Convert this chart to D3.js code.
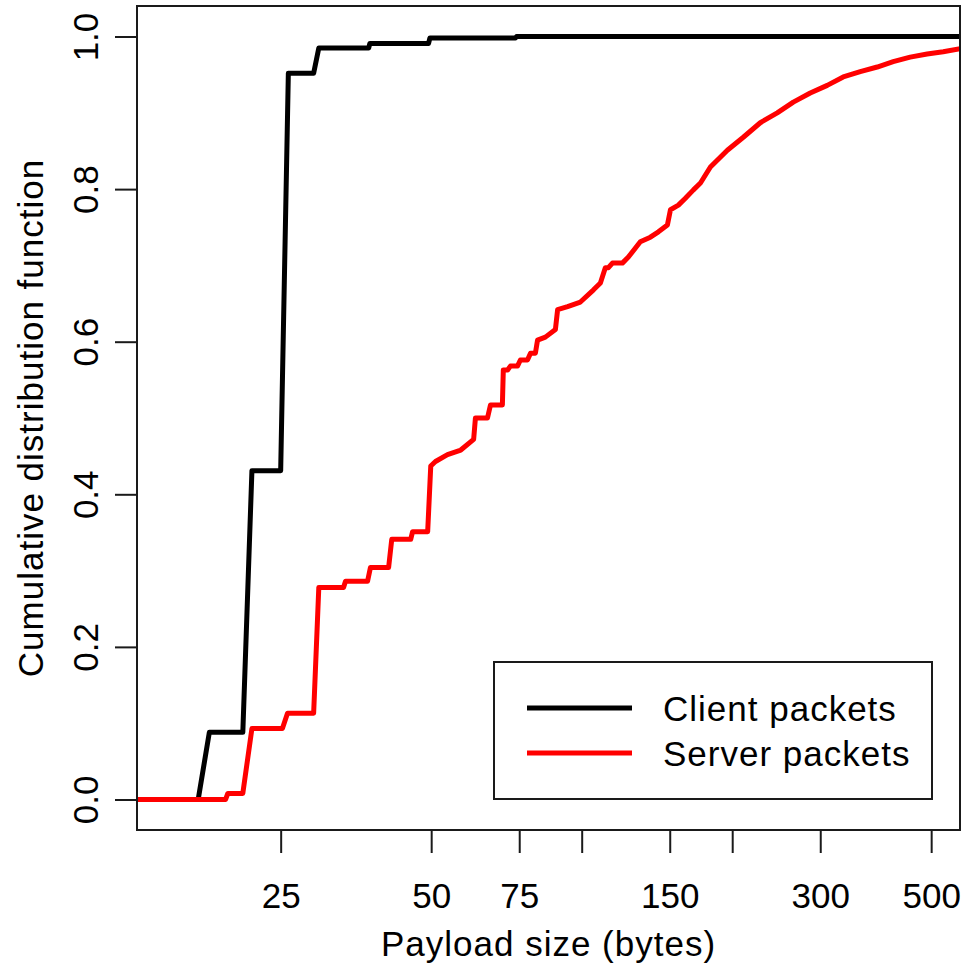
<!DOCTYPE html>
<html>
<head>
<meta charset="utf-8">
<script src="https://cdn.jsdelivr.net/npm/d3@7"></script>
<style>
  html, body { margin: 0; padding: 0; background: #fff; }
  svg { display: block; }
  text { font-family: "Liberation Sans", Arial, Helvetica, sans-serif; fill: #000; }
</style>
</head>
<body>
<svg id="chart" width="963" height="966"></svg>
<script>
// Empirical CDF of payload sizes (bytes), traced as polyline vertices.
const clientSize = [12.9, 17.1, 18.0, 21.0, 21.9, 25.0, 25.9, 29.1, 29.8, 37.5, 37.7, 49.4, 49.7, 73.7, 74.1, 571];
const clientCdf  = [0, 0, 0.088, 0.088, 0.431, 0.431, 0.952, 0.952, 0.985, 0.985, 0.991, 0.991, 0.998, 0.998, 1.0, 1.0];

const serverSize = [12.9, 19.4, 19.6, 21.0, 21.9, 25.2, 25.8, 29.1, 29.8, 33.4, 33.7, 37.3, 37.8, 41.1, 41.7,
  45.5, 45.9, 49.2, 49.9, 51.0, 53.9, 57.3, 60.8, 61.3, 64.8, 65.7, 69.4, 69.7, 71.1, 72.0, 74.4, 75.4,
  77.9, 79.0, 80.8, 81.6, 84.6, 88.6, 89.5, 93.7, 99.4, 105.6, 109.0, 111.5, 113.1, 115.2, 120.6, 124.0,
  131.0, 137.2, 142.4, 148.4, 150.5, 156.1, 161.2, 167.3, 172.8, 180.9, 195.6, 210.5, 227.6, 246.1,
  265.0, 286.5, 309.8, 333.5, 360.7, 390.0, 419.8, 453.9, 490.8, 528.5, 571.5];
const serverCdf = [0, 0, 0.008, 0.008, 0.093, 0.093, 0.113, 0.113, 0.278, 0.278, 0.286, 0.286, 0.304, 0.304, 0.341,
  0.341, 0.351, 0.351, 0.437, 0.443, 0.452, 0.458, 0.472, 0.500, 0.500, 0.517, 0.517, 0.563, 0.563, 0.568, 0.568, 0.576,
  0.576, 0.585, 0.585, 0.602, 0.606, 0.616, 0.642, 0.646, 0.652, 0.668, 0.677, 0.697, 0.697, 0.703, 0.703, 0.711,
  0.731, 0.737, 0.744, 0.753, 0.773, 0.779, 0.788, 0.799, 0.808, 0.829, 0.851, 0.868, 0.887, 0.900,
  0.914, 0.926, 0.936, 0.947, 0.954, 0.960, 0.967, 0.973, 0.977, 0.980, 0.984];

const xTickValues = [25, 50, 75, 100, 150, 200, 300, 500];
const xTickLabels = ["25", "50", "75", "", "150", "", "300", "500"];
const yTickValues = [0, 0.2, 0.4, 0.6, 0.8, 1.0];
const seriesNames = ["Client packets", "Server packets"];
const seriesColors = ["#000000", "#ff0000"];

const svg = d3.select("#chart");
const plot = { left: 137, right: 960, top: 6, bottom: 830 };
const fontSize = 35;
const fontFamily = "'Liberation Sans', Arial, Helvetica, sans-serif";

const x = d3.scaleLog().domain([12.9, 571]).range([plot.left, plot.right]);
const y = d3.scaleLinear().domain([-0.04, 1.04]).range([plot.bottom, plot.top]);

svg.append("defs").append("clipPath").attr("id", "plot-clip")
  .append("rect")
  .attr("x", plot.left).attr("y", plot.top)
  .attr("width", plot.right - plot.left).attr("height", plot.bottom - plot.top);

// Curves
const line = d3.line().x(d => x(d[0])).y(d => y(d[1]));
const series = [
  d3.zip(clientSize, clientCdf),
  d3.zip(serverSize, serverCdf)
];
const curves = svg.append("g").attr("clip-path", "url(#plot-clip)");
series.forEach((pts, i) => {
  curves.append("path")
    .datum(pts)
    .attr("d", line)
    .attr("fill", "none")
    .attr("stroke", seriesColors[i])
    .attr("stroke-width", 5)
    .attr("stroke-linejoin", "round")
    .attr("stroke-linecap", "butt");
});

// Plot frame
svg.append("rect")
  .attr("x", plot.left).attr("y", plot.top)
  .attr("width", plot.right - plot.left).attr("height", plot.bottom - plot.top)
  .attr("fill", "none").attr("stroke", "#1a1a1a").attr("stroke-width", 2);

// X axis
const xAxis = d3.axisBottom(x)
  .tickValues(xTickValues)
  .tickFormat((d, i) => xTickLabels[i])
  .tickSize(23);
const gx = svg.append("g").attr("transform", `translate(0,${plot.bottom})`).call(xAxis);
gx.select(".domain").remove();
gx.selectAll(".tick line").attr("stroke", "#1a1a1a").attr("stroke-width", 2);
gx.selectAll(".tick text")
  .attr("y", 78).attr("dy", null)
  .attr("font-size", fontSize)
  .style("font-family", fontFamily)
  .attr("fill", "#000");

// Y axis
const yAxis = d3.axisLeft(y)
  .tickValues(yTickValues)
  .tickFormat(d3.format(".1f"))
  .tickSize(22);
const gy = svg.append("g").attr("transform", `translate(${plot.left},0)`).call(yAxis);
gy.select(".domain").remove();
gy.selectAll(".tick line").attr("stroke", "#1a1a1a").attr("stroke-width", 2);
gy.selectAll(".tick text")
  .attr("x", 0).attr("y", -39).attr("dy", null)
  .attr("transform", "rotate(-90)")
  .attr("text-anchor", "middle")
  .attr("font-size", fontSize)
  .style("font-family", fontFamily)
  .attr("fill", "#000");

// Axis titles
svg.append("text")
  .attr("x", (plot.left + plot.right) / 2).attr("y", 956)
  .attr("text-anchor", "middle")
  .attr("font-size", fontSize)
  .attr("letter-spacing", 1)
  .text("Payload size (bytes)");

svg.append("text")
  .attr("transform", `translate(43,${(plot.top + plot.bottom) / 2}) rotate(-90)`)
  .attr("text-anchor", "middle")
  .attr("font-size", fontSize)
  .attr("letter-spacing", 1)
  .text("Cumulative distribution function");

// Legend
const legend = svg.append("g");
legend.append("rect")
  .attr("x", 494).attr("y", 662).attr("width", 438).attr("height", 137)
  .attr("fill", "#fff").attr("stroke", "#1a1a1a").attr("stroke-width", 2);
seriesNames.forEach((name, i) => {
  const ly = 708 + i * 45;
  legend.append("line")
    .attr("x1", 527).attr("x2", 632).attr("y1", ly).attr("y2", ly)
    .attr("stroke", seriesColors[i]).attr("stroke-width", 5);
  legend.append("text")
    .attr("x", 663).attr("y", ly + 13)
    .attr("font-size", fontSize)
    .attr("letter-spacing", 1)
    .text(name);
});
</script>
</body>
</html>
